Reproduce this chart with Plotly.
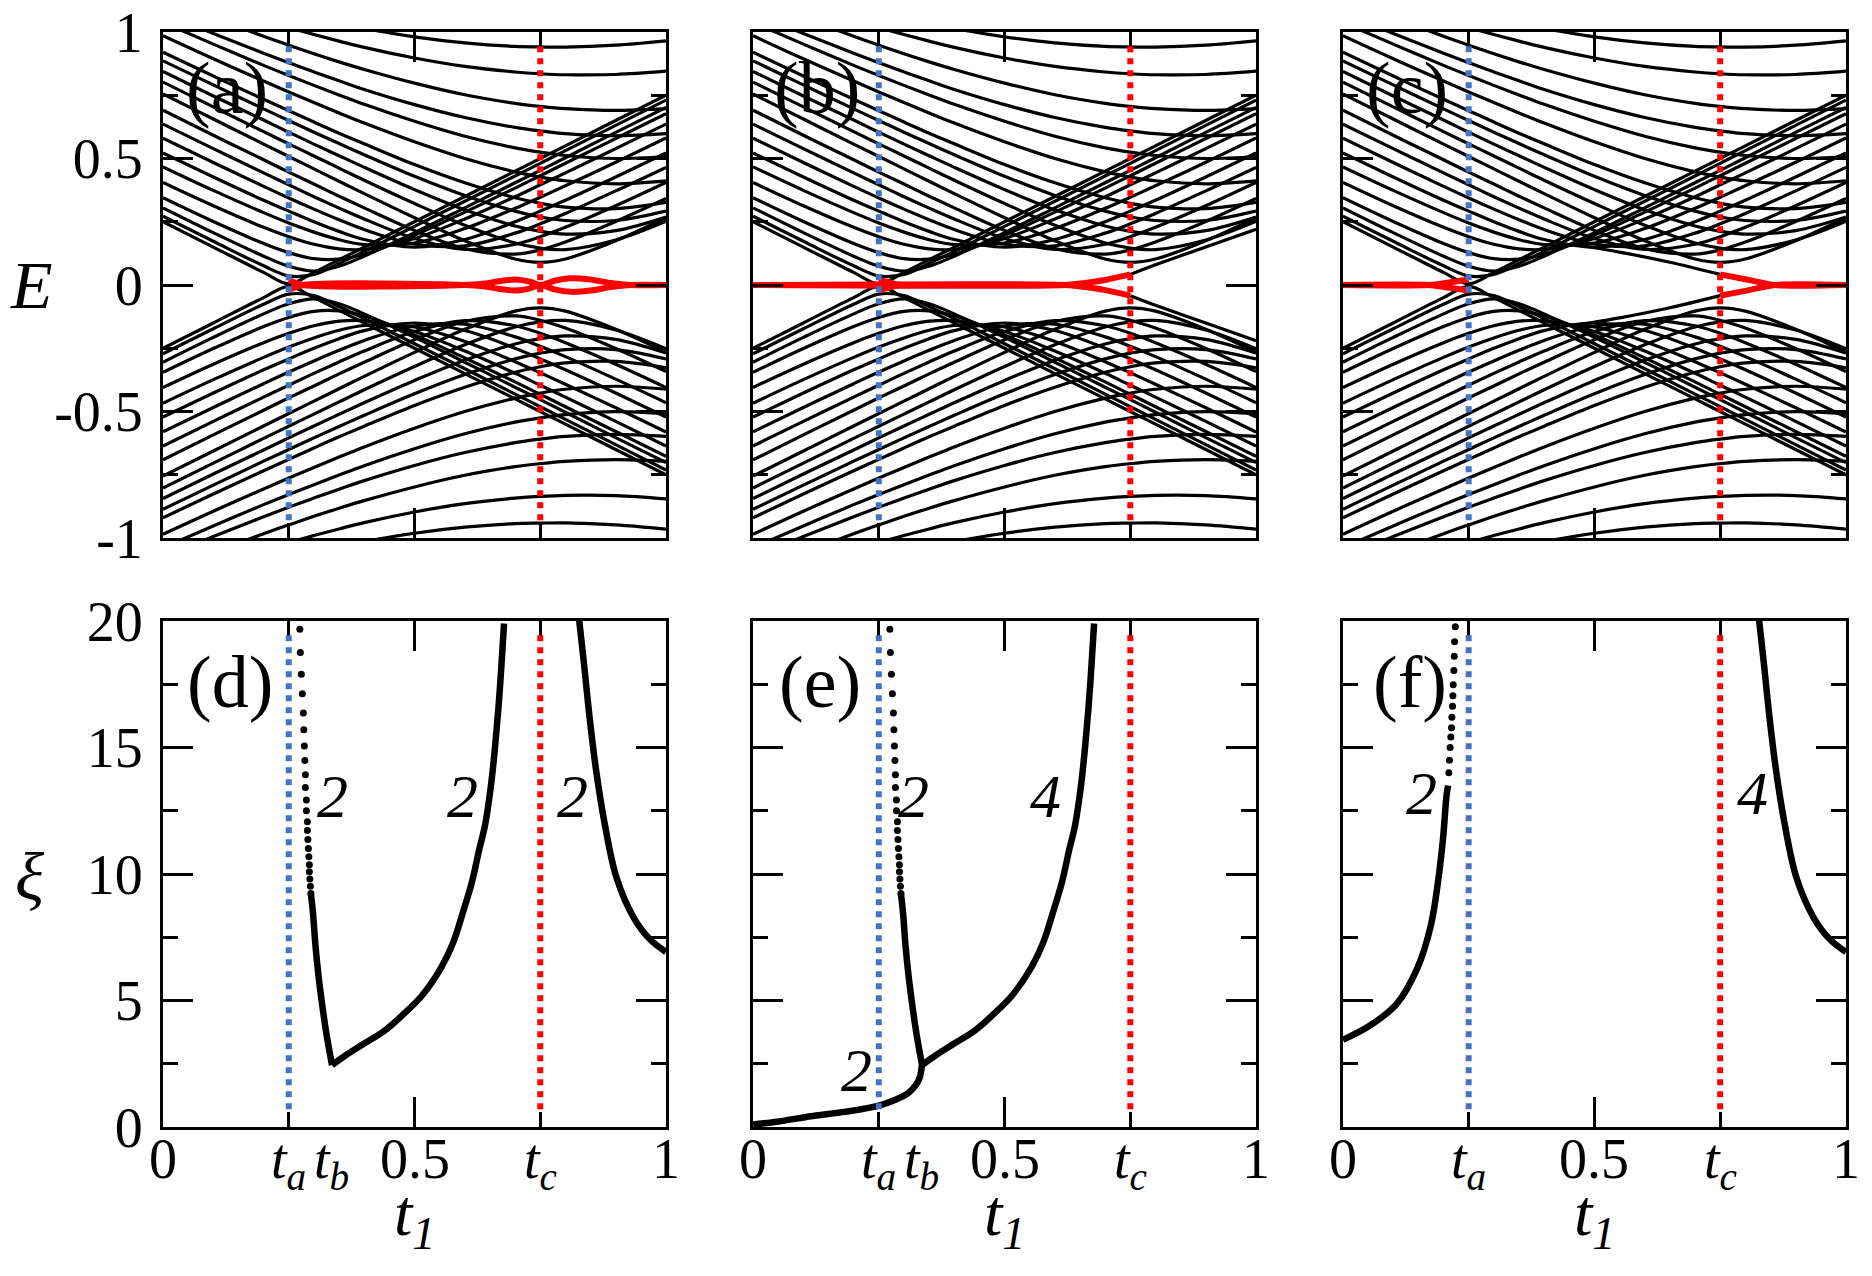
import plotly.graph_objects as go

T_A, T_B, T_C = 0.25, 0.335, 0.75

# sample points in t1 for the energy levels
T1 = [0, 0.1, 0.2, 0.25, 0.3, 0.35, 0.4, 0.5, 0.6, 0.7, 0.75, 0.8, 0.9, 1.0]

# positive energy levels (a)-(c); the negative half is the mirror image
E_A1 = [0.250, 0.150, 0.050, 0.005, 0.050, 0.100, 0.150, 0.250, 0.350, 0.450, 0.500, 0.550, 0.650, 0.750]
E_A2 = [0.272, 0.173, 0.076, 0.036, 0.042, 0.085, 0.133, 0.232, 0.331, 0.431, 0.481, 0.531, 0.631, 0.731]
E_A3 = [0.305, 0.207, 0.114, 0.074, 0.055, 0.074, 0.114, 0.207, 0.305, 0.404, 0.453, 0.503, 0.603, 0.702]
E_A4 = [0.345, 0.251, 0.164, 0.128, 0.104, 0.102, 0.122, 0.197, 0.288, 0.383, 0.432, 0.481, 0.579, 0.677]
E_A5 = [0.405, 0.313, 0.228, 0.191, 0.161, 0.143, 0.141, 0.184, 0.261, 0.349, 0.396, 0.443, 0.539, 0.636]
E_A6 = [0.467, 0.374, 0.286, 0.245, 0.209, 0.179, 0.160, 0.166, 0.223, 0.303, 0.347, 0.392, 0.485, 0.581]
E_A7 = [0.522, 0.427, 0.335, 0.292, 0.250, 0.212, 0.180, 0.150, 0.180, 0.250, 0.292, 0.335, 0.427, 0.522]
E_A8 = [0.580, 0.484, 0.390, 0.344, 0.300, 0.258, 0.219, 0.162, 0.155, 0.205, 0.242, 0.283, 0.372, 0.465]
E_A9 = [0.636, 0.539, 0.443, 0.396, 0.349, 0.304, 0.261, 0.184, 0.141, 0.161, 0.191, 0.228, 0.313, 0.405]
E_A10 = [0.691, 0.592, 0.495, 0.446, 0.399, 0.351, 0.305, 0.216, 0.144, 0.122, 0.139, 0.170, 0.251, 0.342]
E_A11 = [0.755, 0.656, 0.557, 0.508, 0.459, 0.410, 0.361, 0.266, 0.175, 0.103, 0.090, 0.103, 0.175, 0.266]
E_C1 = [0.802, 0.704, 0.606, 0.558, 0.510, 0.462, 0.414, 0.322, 0.236, 0.166, 0.146, 0.140, 0.178, 0.252]
E_B1 = [0.844, 0.747, 0.652, 0.604, 0.557, 0.511, 0.465, 0.377, 0.297, 0.233, 0.212, 0.201, 0.215, 0.269]
E_C2 = [0.886, 0.791, 0.696, 0.650, 0.604, 0.559, 0.515, 0.430, 0.354, 0.292, 0.269, 0.255, 0.255, 0.292]
E_B2 = [0.920, 0.826, 0.734, 0.689, 0.644, 0.600, 0.558, 0.476, 0.404, 0.345, 0.323, 0.308, 0.302, 0.327]
E_B3 = [0.985, 0.894, 0.806, 0.763, 0.721, 0.680, 0.640, 0.566, 0.500, 0.447, 0.427, 0.412, 0.400, 0.412]
E_B4 = [1.038, 0.952, 0.868, 0.828, 0.789, 0.751, 0.714, 0.647, 0.588, 0.542, 0.525, 0.512, 0.500, 0.508]
E_B5 = [1.076, 0.994, 0.916, 0.878, 0.842, 0.807, 0.773, 0.713, 0.662, 0.623, 0.609, 0.598, 0.590, 0.598]
E_B6 = [1.134, 1.057, 0.983, 0.948, 0.914, 0.882, 0.852, 0.798, 0.752, 0.718, 0.706, 0.697, 0.690, 0.697]
E_B7 = [1.181, 1.112, 1.048, 1.018, 0.990, 0.964, 0.939, 0.897, 0.864, 0.842, 0.835, 0.831, 0.832, 0.845]
E_B8 = [1.222, 1.160, 1.105, 1.079, 1.056, 1.034, 1.014, 0.981, 0.957, 0.943, 0.941, 0.940, 0.948, 0.965]

LEVELS = [E_A1, E_A2, E_A3, E_A4, E_A5, E_A6, E_A7, E_A8, E_A9, E_A10, E_A11,
          E_C1, E_B1, E_C2, E_B2, E_B3, E_B4, E_B5, E_B6, E_B7, E_B8]

# in-gap levels (upper branch), per panel
RED_A_T = [0.25, 0.28, 0.6, 0.64, 0.67, 0.70, 0.73, 0.75, 0.78, 0.81, 0.85, 0.89, 0.93, 1.0]
RED_A_E = [0.02, 0.0, 0.0, 0.006, 0.016, 0.022, 0.013, 0.0, 0.018, 0.027, 0.022, 0.008, 0.0, 0.0]
RED_B_T = [0, 0.62, 0.66, 0.70, 0.75]
RED_B_E = [0, 0, 0.008, 0.02, 0.042]
WEDGE_B_T = [0.25, 0.29]
WEDGE_B_E = [0.02, 0.0]
EDGE_B_T = [0.75, 0.8, 0.9, 1.0]
EDGE_B_E = [0.042, 0.08, 0.15, 0.22]
RED_C1_T = [0, 0.17, 0.21, 0.25]
RED_C1_E = [0, 0, 0.01, 0.022]
RED_C2_T = [0.75, 0.805, 0.86, 1.0]
RED_C2_E = [0.042, 0.021, 0, 0]
EDGE_C_T = [0.46, 0.55, 0.65, 0.75]
EDGE_C_E = [0.16, 0.13, 0.09, 0.042]

# correlation length xi
XI_DOT_T = [0.272, 0.273, 0.275, 0.277, 0.279, 0.280, 0.281, 0.282, 0.283, 0.283, 0.285,
            0.285, 0.287, 0.287, 0.288, 0.289, 0.290, 0.291, 0.291, 0.292, 0.293, 0.294]
XI_DOT_V = [19.67, 18.75, 17.9, 17.12, 16.36, 15.7, 15.06, 14.49, 13.92, 13.42, 12.93,
            12.5, 12.07, 11.72, 11.36, 11.01, 10.68, 10.37, 10.09, 9.8, 9.52, 9.23]
XI_STEEP_T = [0.294, 0.298, 0.303, 0.309, 0.316, 0.324, 0.330, 0.336]
XI_STEEP_V = [9.2, 8.5, 7.2, 6.0, 4.9, 3.8, 3.1, 2.45]
XI_RISE_T = [0.336, 0.364, 0.40, 0.44, 0.477, 0.515, 0.553, 0.577, 0.598, 0.614, 0.629,
             0.640, 0.652, 0.660, 0.667, 0.673, 0.678]
XI_RISE_V = [2.45, 2.85, 3.3, 3.8, 4.44, 5.2, 6.3, 7.3, 8.6, 9.67, 11.0,
             11.9, 13.5, 15.0, 16.6, 18.3, 19.9]
XI_LOW_T = [0, 0.048, 0.115, 0.182, 0.25, 0.282, 0.309, 0.325, 0.332, 0.336]
XI_LOW_V = [0.1, 0.21, 0.43, 0.6, 0.85, 1.07, 1.35, 1.7, 2.0, 2.45]
XI_RIGHT_T = [0.827, 0.837, 0.848, 0.861, 0.878, 0.902, 0.936, 0.969, 1.0]
XI_RIGHT_V = [20.1, 18.3, 16.2, 14.1, 12.0, 9.83, 8.27, 7.4, 6.92]
XI_F_T = [0, 0.053, 0.107, 0.148, 0.175, 0.189, 0.199, 0.206, 0.209]
XI_F_V = [3.45, 4.0, 4.87, 6.28, 7.99, 9.69, 11.4, 13.1, 13.5]
XI_F_DOT_T = [0.2105, 0.2118, 0.2132, 0.2145, 0.2159, 0.2166, 0.2179, 0.2186,
              0.2193, 0.2206, 0.2213, 0.222, 0.2234]
XI_F_DOT_V = [14.0, 14.5, 15.0, 15.42, 15.78, 16.2, 16.63, 17.05,
              17.48, 18.04, 18.61, 19.18, 19.77]

E_TICKS = [-1, -0.5, 0, 0.5, 1]
E_TICK_TEXT = ["-1", "-0.5", "0", "0.5", "1"]
XI_TICKS = [0, 5, 10, 15, 20]
TA = "<i>t</i><sub><i>a</i></sub>"
TB = "<i>t</i><sub><i>b</i></sub>"
TC = "<i>t</i><sub><i>c</i></sub>"
X_LABELS = [
    ([0, T_A, T_B, 0.5, T_C, 1], ["0", TA, TB, "0.5", TC, "1"]),
    ([0, T_A, T_B, 0.5, T_C, 1], ["0", TA, TB, "0.5", TC, "1"]),
    ([0, T_A, 0.5, T_C, 1], ["0", TA, "0.5", TC, "1"]),
]

BLUE = "#4472C4"
RED = "#FF0000"
FONT = "Liberation Serif, Times New Roman, DejaVu Serif, serif"

# panel boxes (the page puts the plot 8 px in from the top-left corner)
X_DOM = [(0.0828, 0.3515), (0.3980, 0.6667), (0.7131, 0.9818)]
Y_TOP = (0.5846, 0.9812)
Y_BOT = (0.1230, 0.5196)

fig = go.Figure()


def sfx(n):
    return "" if n == 1 else str(n)


def joined(xs_list, ys_list):
    xs, ys = [], []
    for x, y in zip(xs_list, ys_list):
        xs += list(x) + [None]
        ys += list(y) + [None]
    return xs, ys


def add_line(xs, ys, n, color="black", width=3.2, smooth=1.0):
    fig.add_trace(go.Scatter(x=xs, y=ys, mode="lines", xaxis="x" + sfx(n), yaxis="y" + sfx(n),
                             line=dict(color=color, width=width, shape="spline", smoothing=smooth),
                             hoverinfo="skip", showlegend=False))


def add_pair(t, e, n, color, width):
    # draw a level and its E -> -E partner
    xs, ys = joined([t, t], [e, [-v for v in e]])
    add_line(xs, ys, n, color, width, 0.8)


# top row: spectra
for i in range(3):
    n = i + 1
    xs, ys = joined([T1] * len(LEVELS) * 2,
                    LEVELS + [[-v for v in lev] for lev in LEVELS])
    add_line(xs, ys, n)

add_pair(RED_A_T, RED_A_E, 1, RED, 6)
add_pair(EDGE_B_T, EDGE_B_E, 2, "black", 3.2)
add_pair(RED_B_T, RED_B_E, 2, RED, 6)
add_pair(WEDGE_B_T, WEDGE_B_E, 2, RED, 6)
add_pair(EDGE_C_T, EDGE_C_E, 3, "black", 3.2)
add_pair(RED_C1_T, RED_C1_E, 3, RED, 6)
add_pair(RED_C2_T, RED_C2_E, 3, RED, 6)


# bottom row: correlation length
def xi_line(t, v, n, smooth=1.0):
    add_line(t, v, n, "black", 6.5, smooth)


def xi_dots(t, v, n):
    fig.add_trace(go.Scatter(x=t, y=v, mode="markers", xaxis="x" + sfx(n), yaxis="y" + sfx(n),
                             marker=dict(color="black", size=7),
                             hoverinfo="skip", showlegend=False))


xi_dots(XI_DOT_T, XI_DOT_V, 4)
xi_line(XI_STEEP_T, XI_STEEP_V, 4)
xi_line(XI_RISE_T, XI_RISE_V, 4)
xi_line(XI_RIGHT_T, XI_RIGHT_V, 4)

xi_line(XI_LOW_T, XI_LOW_V, 5, 0.6)
xi_dots(XI_DOT_T, XI_DOT_V, 5)
xi_line(XI_STEEP_T, XI_STEEP_V, 5)
xi_line(XI_RISE_T, XI_RISE_V, 5)

xi_line(XI_F_T, XI_F_V, 6)
xi_dots(XI_F_DOT_T, XI_F_DOT_V, 6)
xi_line(XI_RIGHT_T, XI_RIGHT_V, 6)

tickfont = dict(family=FONT, size=56, color="black")
frame = dict(showline=True, linecolor="black", linewidth=3, mirror="ticks",
             ticks="inside", ticklen=30, tickwidth=3, tickcolor="black",
             showgrid=False, zeroline=False, tickfont=tickfont, automargin=False,
             ticklabeloverflow="allow")

layout = {}
for i in range(3):
    for row, n in (("top", i + 1), ("bot", i + 4)):
        layout["xaxis" + sfx(n)] = dict(frame, domain=X_DOM[i], anchor="y" + sfx(n), range=[0, 1],
                                        tickmode="array", tickvals=[0, 0.5, 1], showticklabels=False,
                                        minor=dict(ticks="inside", ticklen=15, tickwidth=3,
                                                   tickcolor="black", dtick=0.25))
        if row == "top":
            layout["yaxis" + sfx(n)] = dict(frame, domain=Y_TOP, anchor="x" + sfx(n), range=[-1, 1],
                                            tickmode="array", tickvals=E_TICKS, ticktext=E_TICK_TEXT,
                                            showticklabels=(i == 0), ticklabelstandoff=6,
                                            minor=dict(ticks="inside", ticklen=15, tickwidth=3,
                                                       tickcolor="black", dtick=0.25))
        else:
            layout["yaxis" + sfx(n)] = dict(frame, domain=Y_BOT, anchor="x" + sfx(n), range=[0, 20],
                                            tickmode="array", tickvals=XI_TICKS,
                                            showticklabels=(i == 0), ticklabelstandoff=6,
                                            minor=dict(ticks="inside", ticklen=15, tickwidth=3,
                                                       tickcolor="black", dtick=2.5))

fig.update_layout(**layout)

# dotted markers of t_a and t_c
for n in range(1, 7):
    for tx, col in ((T_A, BLUE), (T_C, RED)):
        fig.add_shape(type="line", xref="x" + sfx(n), yref="y" + sfx(n) + " domain", x0=tx, x1=tx,
                      y0=0.035, y1=0.98, line=dict(color=col, width=6, dash="6px,6px"))

ann = []
# t1 tick labels below the bottom panels
for i, (vals, text) in enumerate(X_LABELS):
    for v, s in zip(vals, text):
        ann.append(dict(text=s, x=v, xref=f"x{i + 4}", y=0.1238, yref="paper",
                        xanchor="center", yanchor="top", showarrow=False, font=tickfont))

for i, lab in enumerate(["(a)", "(b)", "(c)"]):
    ann.append(dict(text=lab, x=0.128, y=0.78, xref="x" + sfx(i + 1), yref="y" + sfx(i + 1),
                    xanchor="center", yanchor="middle", showarrow=False,
                    font=dict(family=FONT, size=74, color="black")))
for i, lab in enumerate(["(d)", "(e)", "(f)"]):
    ann.append(dict(text=lab, x=0.133, y=17.6, xref=f"x{i + 4}", yref=f"y{i + 4}",
                    xanchor="center", yanchor="middle", showarrow=False,
                    font=dict(family=FONT, size=74, color="black")))

EXPONENTS = [
    (4, 0.337, 13.1, "2"), (4, 0.595, 13.1, "2"), (4, 0.814, 13.1, "2"),
    (5, 0.319, 13.1, "2"), (5, 0.582, 13.1, "4"), (5, 0.205, 2.24, "2"),
    (6, 0.156, 13.2, "2"), (6, 0.815, 13.2, "4"),
]
for n, x, y, s in EXPONENTS:
    ann.append(dict(text=f"<i>{s}</i>", x=x, y=y, xref=f"x{n}", yref=f"y{n}",
                    xanchor="center", yanchor="middle", showarrow=False,
                    font=dict(family=FONT, size=62, color="black")))

ann.append(dict(text="<i>E</i>", x=0.0123, y=0.7829, xref="paper", yref="paper",
                xanchor="center", yanchor="middle", showarrow=False,
                font=dict(family=FONT, size=68, color="black")))
ann.append(dict(text="<i>ξ</i>", x=0.0118, y=0.3190, xref="paper", yref="paper",
                xanchor="center", yanchor="middle", showarrow=False,
                font=dict(family=FONT, size=68, color="black")))
for i in range(3):
    cx = (X_DOM[i][0] + X_DOM[i][1]) / 2
    ann.append(dict(text="<i>t</i><sub><i>1</i></sub>", x=cx, y=0.018, xref="paper",
                    yref="paper", xanchor="center", yanchor="bottom", showarrow=False,
                    font=dict(family=FONT, size=66, color="black")))

fig.update_layout(annotations=ann, width=1872, height=1276, template="none",
                  margin=dict(l=0, r=0, t=0, b=0, autoexpand=False),
                  paper_bgcolor="white", plot_bgcolor="white", showlegend=False)

fig.write_html("out.html")
